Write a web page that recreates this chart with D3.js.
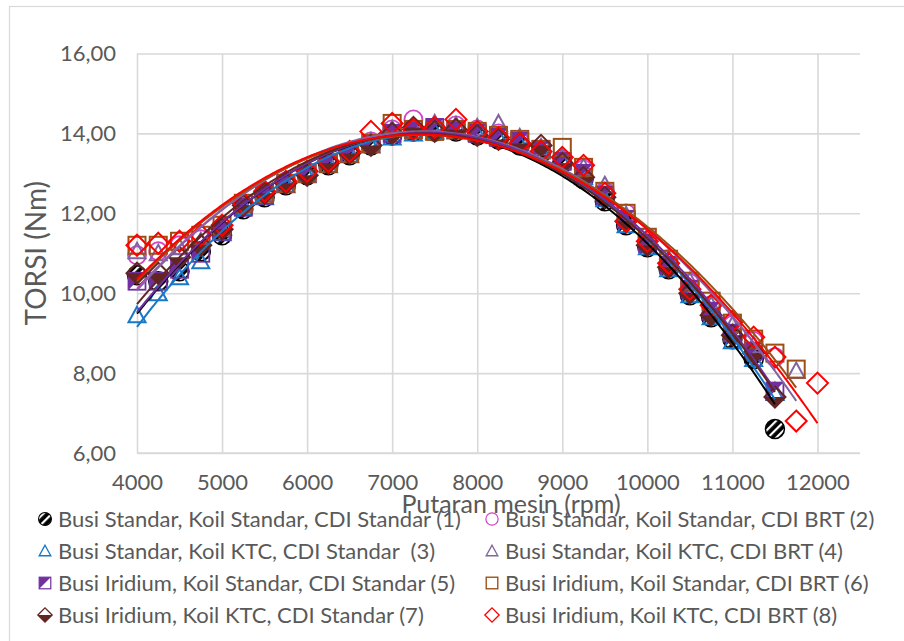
<!DOCTYPE html>
<html>
<head>
<meta charset="utf-8">
<script src="https://cdn.jsdelivr.net/npm/d3@7"></script>
<style>
  html, body { margin: 0; padding: 0; background: #fff; }
  svg { display: block; font-family: Lato, "Open Sans", sans-serif; }
</style>
</head>
<body>
<svg id="chart" width="904" height="641"></svg>
<script>
// Engine speed (rpm) shared by all test configurations
const rpm = [4000,4250,4500,4750,5000,5250,5500,5750,6000,6250,6500,6750,7000,7250,7500,7750,8000,8250,8500,8750,9000,9250,9500,9750,10000,10250,10500,10750,11000,11250,11500,11750,12000];

// Torque (Nm) per configuration; null = not measured at that speed
const torque1 = [10.45,10.3,10.55,11.05,11.45,12.1,12.4,12.7,12.95,13.2,13.45,13.7,13.95,14.05,14.05,14.05,13.95,13.85,13.7,13.5,13.25,12.85,12.3,11.7,11.15,10.6,9.95,9.4,8.85,8.35,6.6,null,null];
const torque2 = [10.95,11.05,11.2,11.35,11.65,12.2,12.5,12.8,13.05,13.3,13.55,13.8,14.1,14.35,14.15,14.2,14.1,14.0,13.8,13.6,13.35,13.1,12.55,12.0,11.4,10.85,10.25,9.7,9.2,8.8,8.4,null,null];
const torque3 = [9.45,10.0,10.4,10.8,11.5,12.15,12.4,12.7,12.95,13.2,13.45,13.7,13.9,14.0,14.05,14.05,14.0,13.9,13.75,13.55,13.3,12.9,12.35,11.7,11.15,10.6,9.95,9.4,8.8,8.35,7.5,null,null];
const torque4 = [11.05,11.0,11.15,11.3,11.6,12.2,12.5,12.8,13.05,13.3,13.55,13.8,14.1,14.15,14.25,14.2,14.15,14.25,13.9,13.65,13.4,13.15,12.7,11.95,11.4,10.85,10.3,9.7,9.2,8.7,7.55,8.05,null];
const torque5 = [10.3,10.3,10.6,11.0,11.55,12.15,12.45,12.75,13.0,13.25,13.5,13.75,14.0,14.1,14.15,14.1,14.0,13.9,13.8,13.6,13.3,13.0,12.45,11.85,11.25,10.7,10.1,9.55,9.0,8.55,7.55,null,null];
const torque6 = [11.2,11.2,11.3,11.45,11.7,12.25,12.5,12.75,13.0,13.25,13.5,13.75,14.25,14.1,14.05,14.1,14.05,13.95,13.85,13.6,13.65,13.15,12.55,12.0,11.4,10.85,10.3,9.8,9.25,8.85,8.5,8.1,null];
const torque7 = [10.5,10.5,10.9,11.2,11.6,12.2,12.5,12.75,12.95,13.25,13.5,13.7,14.0,14.15,14.05,14.1,13.95,13.85,13.75,13.7,13.25,12.9,12.4,11.8,11.2,10.65,10.0,9.45,8.95,8.5,7.4,null,null];
const torque8 = [11.2,11.25,11.3,11.45,11.7,12.25,12.55,12.8,13.05,13.3,13.55,14.05,14.25,14.1,14.15,14.35,14.05,13.9,13.75,13.55,13.4,13.2,12.5,11.8,11.3,10.75,10.1,9.7,9.3,8.9,8.4,6.8,7.75];

const seriesNames = [
  "Busi Standar, Koil Standar, CDI Standar (1)",
  "Busi Standar, Koil Standar, CDI BRT (2)",
  "Busi Standar, Koil KTC, CDI Standar  (3)",
  "Busi Standar, Koil KTC, CDI BRT (4)",
  "Busi Iridium, Koil Standar, CDI Standar (5)",
  "Busi Iridium, Koil Standar, CDI BRT (6)",
  "Busi Iridium, Koil KTC, CDI Standar (7)",
  "Busi Iridium, Koil KTC, CDI BRT (8)"
];
const xTicks = [4000,5000,6000,7000,8000,9000,10000,11000,12000];
const yTicks = [6,8,10,12,14,16];
const xTitle = "Putaran mesin (rpm)";
const yTitle = "TORSI (Nm)";

// Marker shape and colour of each configuration
const styles = [
  {shape: "hatchCircle", color: "#000000"},
  {shape: "circle",      color: "#D046C6"},
  {shape: "triangle",    color: "#1878C8"},
  {shape: "triangle",    color: "#8064A2"},
  {shape: "halfSquare",  color: "#7030A0"},
  {shape: "square",      color: "#9C4E14"},
  {shape: "halfDiamond", color: "#632523"},
  {shape: "diamond",     color: "#FF0000"}
];
const allTorque = [torque1, torque2, torque3, torque4, torque5, torque6, torque7, torque8];

const svg = d3.select("#chart");
const textColor = "#595959";
const gridColor = "#D9D9D9";

// Hatched fill for configuration (1)
const defs = svg.append("defs");
const pat = defs.append("pattern")
  .attr("id", "hatch").attr("patternUnits", "userSpaceOnUse")
  .attr("width", 6).attr("height", 6)
  .attr("patternTransform", "rotate(45)");
pat.append("rect").attr("width", 6).attr("height", 6).attr("fill", "#000");
pat.append("rect").attr("width", 2.2).attr("height", 6).attr("fill", "#fff");

// Outer chart frame
svg.append("rect")
  .attr("x", 9.5).attr("y", 6.5).attr("width", 1200).attr("height", 1200)
  .attr("fill", "none").attr("stroke", gridColor).attr("stroke-width", 1.2);

const x = d3.scaleLinear().domain([4000, 12500]).range([137, 860]);
const y = d3.scaleLinear().domain([6, 16]).range([453, 53.5]);

// Gridlines + tick labels
const yAxis = svg.append("g").attr("transform", `translate(${x(4000)},0)`)
  .call(d3.axisLeft(y).tickValues(yTicks)
    .tickSize(-(x(12500) - x(4000))).tickPadding(21)
    .tickFormat(d => d.toFixed(2).replace(".", ",")));
const xAxis = svg.append("g").attr("transform", `translate(0,${y(6)})`)
  .call(d3.axisBottom(x).tickValues(xTicks)
    .tickSize(-(y(6) - y(16))).tickPadding(21)
    .tickFormat(d => String(d)));
[xAxis, yAxis].forEach(g => {
  g.select(".domain").remove();
  g.selectAll(".tick line").attr("stroke", gridColor).attr("stroke-width", 1.6);
  g.selectAll(".tick text").attr("fill", textColor)
    .style("font-size", "22px").style("font-family", "Lato, sans-serif");
});
// bottom axis line
svg.append("line")
  .attr("x1", x(4000)).attr("x2", x(12500)).attr("y1", y(6)).attr("y2", y(6))
  .attr("stroke", gridColor).attr("stroke-width", 1.6);

// Y axis title
svg.append("text")
  .attr("transform", `translate(46,${(y(6) + y(16)) / 2}) rotate(-90)`)
  .attr("text-anchor", "middle").attr("fill", textColor)
  .style("font-size", "28px").text(yTitle);

// Marker drawing helper (centred on 0,0)
function drawMarker(g, style, s) {
  const c = style.color;
  switch (style.shape) {
    case "hatchCircle":
      g.append("circle").attr("r", 9.5 * s).attr("fill", "url(#hatch)")
        .attr("stroke", "#000").attr("stroke-width", 1.5 * s);
      break;
    case "circle":
      g.append("circle").attr("r", 9 * s).attr("fill", "none")
        .attr("stroke", c).attr("stroke-width", 1.8 * s);
      break;
    case "triangle":
      g.append("path").attr("d", `M0,${-8.5 * s}L${8.5 * s},${7 * s}L${-8.5 * s},${7 * s}Z`)
        .attr("fill", "none").attr("stroke", c).attr("stroke-width", 2 * s)
        .attr("stroke-linejoin", "miter");
      break;
    case "square":
      g.append("rect").attr("x", -8.5 * s).attr("y", -8.5 * s)
        .attr("width", 17 * s).attr("height", 17 * s)
        .attr("fill", "none").attr("stroke", c).attr("stroke-width", 2 * s);
      break;
    case "halfSquare":
      g.append("path").attr("d", `M${-8.5 * s},${-8.5 * s}L${8.5 * s},${-8.5 * s}L${-8.5 * s},${8.5 * s}Z`)
        .attr("fill", c);
      g.append("rect").attr("x", -8.5 * s).attr("y", -8.5 * s)
        .attr("width", 17 * s).attr("height", 17 * s)
        .attr("fill", "none").attr("stroke", c).attr("stroke-width", 1.8 * s);
      break;
    case "diamond":
      g.append("path").attr("d", `M0,${-10.5 * s}L${10.5 * s},0L0,${10.5 * s}L${-10.5 * s},0Z`)
        .attr("fill", "none").attr("stroke", c).attr("stroke-width", 2 * s);
      break;
    case "halfDiamond":
      g.append("path").attr("d", `M${-10.5 * s},0L${10.5 * s},0L0,${10.5 * s}Z`).attr("fill", c);
      g.append("path").attr("d", `M0,${-10.5 * s}L${10.5 * s},0L0,${10.5 * s}L${-10.5 * s},0Z`)
        .attr("fill", "none").attr("stroke", c).attr("stroke-width", 2 * s);
      break;
  }
}

// Points per configuration
const series = allTorque.map((vals, i) => ({
  name: seriesNames[i],
  style: styles[i],
  points: rpm.map((r, j) => ({r, v: vals[j]})).filter(p => p.v != null)
}));

const plot = svg.append("g");
series.forEach(s => {
  const g = plot.append("g");
  s.points.forEach(p => {
    const m = g.append("g").attr("transform", `translate(${x(p.r)},${y(p.v)})`);
    drawMarker(m, s.style, 1);
  });
});

// Second-order polynomial trendline (least squares) per configuration
function quadFit(points) {
  const xs = points.map(p => p.r / 1000), ys = points.map(p => p.v);
  let S = [0,0,0,0,0], T = [0,0,0];
  xs.forEach((xv, i) => {
    let pw = 1;
    for (let k = 0; k < 5; k++) { S[k] += pw; if (k < 3) T[k] += pw * ys[i]; pw *= xv; }
  });
  const A = [[S[0],S[1],S[2],T[0]],[S[1],S[2],S[3],T[1]],[S[2],S[3],S[4],T[2]]];
  for (let c = 0; c < 3; c++) {
    let piv = c;
    for (let r = c + 1; r < 3; r++) if (Math.abs(A[r][c]) > Math.abs(A[piv][c])) piv = r;
    [A[c], A[piv]] = [A[piv], A[c]];
    for (let r = 0; r < 3; r++) {
      if (r === c) continue;
      const f = A[r][c] / A[c][c];
      for (let k = c; k < 4; k++) A[r][k] -= f * A[c][k];
    }
  }
  const coef = [A[0][3] / A[0][0], A[1][3] / A[1][1], A[2][3] / A[2][2]];
  return r => coef[0] + coef[1] * (r / 1000) + coef[2] * (r / 1000) ** 2;
}

const line = d3.line().x(d => x(d[0])).y(d => y(d[1]));
series.forEach(s => {
  const f = quadFit(s.points);
  const r0 = d3.min(s.points, p => p.r), r1 = d3.max(s.points, p => p.r);
  const pts = d3.range(r0, r1 + 1, 25).map(r => [r, f(r)]);
  plot.append("path").datum(pts).attr("d", line)
    .attr("fill", "none").attr("stroke", s.style.color).attr("stroke-width", 2);
});

// X axis title
svg.append("text")
  .attr("x", 511).attr("y", 513).attr("text-anchor", "middle")
  .attr("fill", textColor).style("font-size", "25px").text(xTitle);

// Legend: two columns, four rows
const legend = svg.append("g");
series.forEach((s, i) => {
  const col = i % 2, row = Math.floor(i / 2);
  const g = legend.append("g")
    .attr("transform", `translate(${col === 0 ? 45 : 492},${519 + row * 32})`);
  drawMarker(g.append("g"), s.style, 0.68);
  g.append("text").attr("x", 13).attr("dy", "0.35em")
    .attr("fill", textColor).style("font-size", "22px")
    .style("white-space", "pre").text(s.name);
});
</script>
</body>
</html>
